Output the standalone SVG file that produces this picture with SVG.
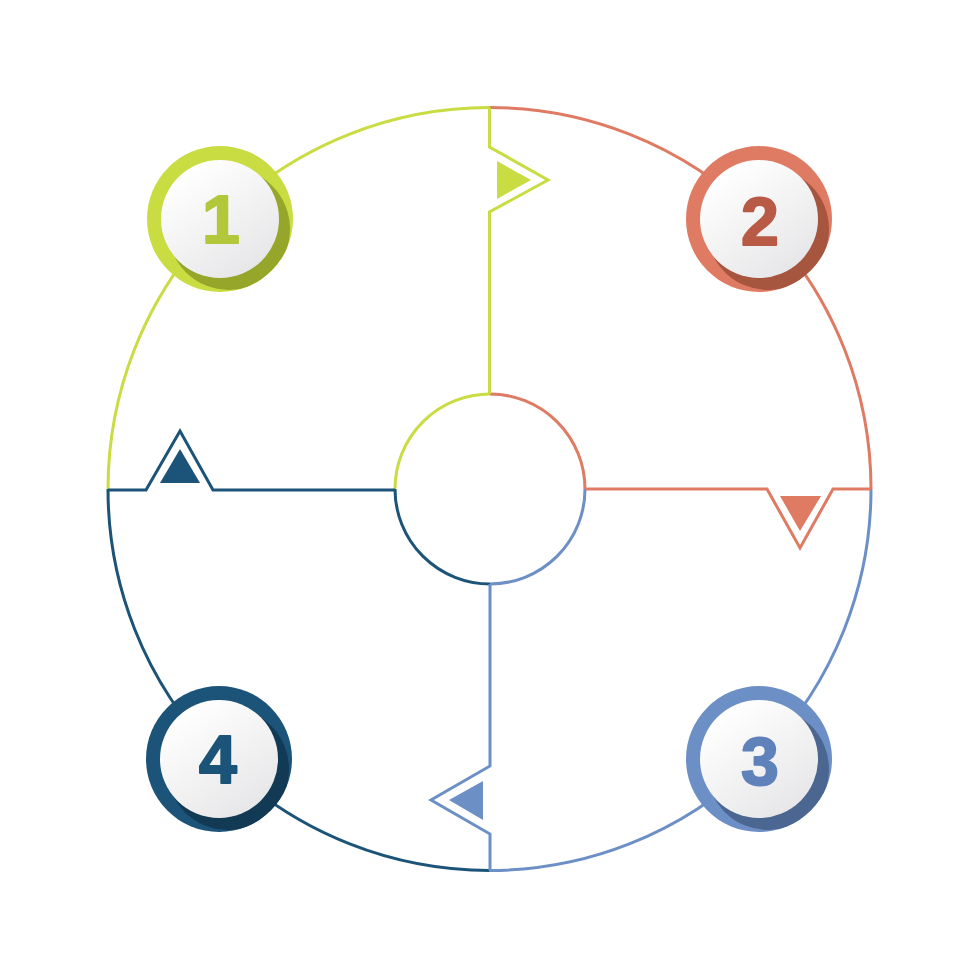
<svg xmlns="http://www.w3.org/2000/svg" width="980" height="980" viewBox="0 0 980 980">
<style>
.ln{fill:none;stroke-width:3;stroke-linejoin:miter}
.g{stroke:#c9dc41}.o{stroke:#df7a63}.lb{stroke:#6c8fc6}.db{stroke:#1b5478}
.num{font-family:"Liberation Sans",Arial,sans-serif;font-weight:bold;font-size:68px;text-anchor:middle;stroke-width:2;stroke-linejoin:round}
.disc{fill:url(#wg)}
</style>
<defs>
<linearGradient id="wg" x1="0.2" y1="0.1" x2="0.8" y2="0.95">
<stop offset="0" stop-color="#ffffff"/>
<stop offset="1" stop-color="#e6e6e8"/>
</linearGradient>
<clipPath id="c1"><circle cx="220" cy="219" r="73"/></clipPath>
<clipPath id="c2"><circle cx="759" cy="219" r="73"/></clipPath>
<clipPath id="c3"><circle cx="759" cy="759" r="73"/></clipPath>
<clipPath id="c4"><circle cx="219" cy="759" r="73"/></clipPath>
</defs>
<rect width="980" height="980" fill="#ffffff"/>
<g id="connectors">
<path class="ln g" d="M108,489 A381.5,381.5 0 0 1 489.5,107.5"/>
<path class="ln o" d="M489.5,107.5 A381.5,381.5 0 0 1 871,489"/>
<path class="ln lb" d="M871,489 A381.5,381.5 0 0 1 489.5,870.5"/>
<path class="ln db" d="M489.5,870.5 A381.5,381.5 0 0 1 108,489"/>
<path class="ln g" d="M395,489 A95,95 0 0 1 490,394"/>
<path class="ln o" d="M490,394 A95,95 0 0 1 585,489"/>
<path class="ln lb" d="M585,489 A95,95 0 0 1 490,584"/>
<path class="ln db" d="M490,584 A95,95 0 0 1 395,489"/>
<path class="ln g" d="M489.5,107.5 V147 L548,180 L489.5,212 V394"/>
<path class="ln o" d="M585,489 H767 L800,548 L833,489 H871"/>
<path class="ln lb" d="M490,584 V766 L431,800 L490,834 V870.5"/>
<path class="ln db" d="M108,490 H146 L180,431 L213,490 H395"/>
<polygon points="497,161 497,199 531,180" fill="#c9dc41"/>
<polygon points="780,496 821,496 800,531" fill="#df7a63"/>
<polygon points="483,781 483,820 449,800" fill="#6c8fc6"/>
<polygon points="160,483 200,483 180,449" fill="#1b5478"/>
</g>
<g id="node1">
<circle cx="220" cy="219" r="73" fill="#c9dc41"/>
<circle cx="229" cy="229" r="61" fill="#95a62a" clip-path="url(#c1)"/>
<circle cx="220" cy="219" r="59" class="disc"/>
<text x="221" y="243" class="num" fill="#b3c73a" stroke="#b3c73a">1</text>
</g>
<g id="node2">
<circle cx="759" cy="219" r="73" fill="#df7a63"/>
<circle cx="768" cy="229" r="61" fill="#a6553f" clip-path="url(#c2)"/>
<circle cx="759" cy="219" r="59" class="disc"/>
<text x="760" y="245" class="num" fill="#b85a45" stroke="#b85a45">2</text>
</g>
<g id="node3">
<circle cx="759" cy="759" r="73" fill="#6c8fc6"/>
<circle cx="768" cy="769" r="61" fill="#4b6791" clip-path="url(#c3)"/>
<circle cx="759" cy="759" r="59" class="disc"/>
<text x="760" y="785" class="num" fill="#5f82bb" stroke="#5f82bb">3</text>
</g>
<g id="node4">
<circle cx="219" cy="759" r="73" fill="#1b5478"/>
<circle cx="228" cy="769" r="61" fill="#123a55" clip-path="url(#c4)"/>
<circle cx="219" cy="759" r="59" class="disc"/>
<text x="218" y="783" class="num" fill="#1b5478" stroke="#1b5478">4</text>
</g>
</svg>
